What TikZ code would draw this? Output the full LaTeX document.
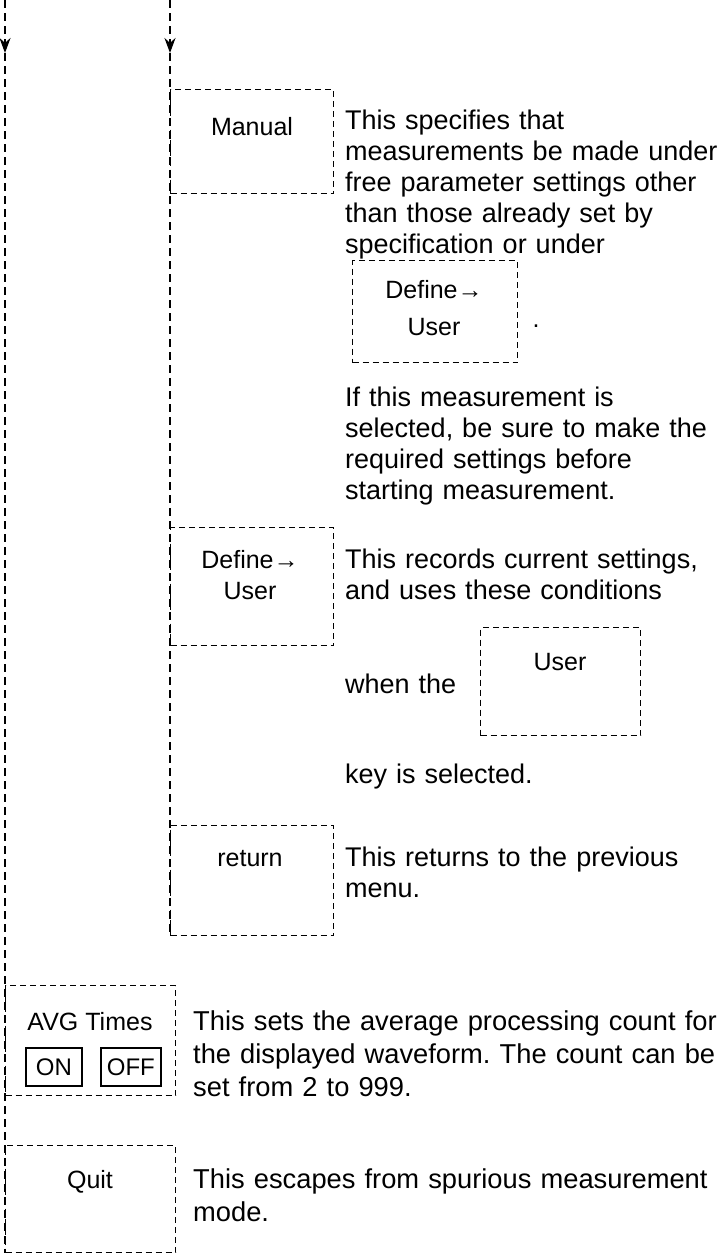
\documentclass[tikz,border=0pt]{standalone}
\usepackage{fontspec}
\setmainfont{Liberation Sans}
\usetikzlibrary{arrows.meta}
\frenchspacing
\begin{document}
\begin{tikzpicture}[x=1pt,y=-1pt,
  flow/.style={line width=1.5pt, dash pattern=on 8pt off 5pt},
  keybox/.style={draw, line width=1.2pt, dash pattern=on 6pt off 4pt, inner sep=0, anchor=north west},
  btn/.style={draw, line width=1.7pt, inner sep=0, anchor=north west, font=\fontsize{24}{29}\selectfont},
  lbl/.style={font=\fontsize{25}{30}\selectfont, inner sep=0, anchor=base},
  desc/.style={font=\fontsize{27}{31}\selectfont, inner sep=0, anchor=base west, align=left, text width=390pt},
  descb/.style={font=\fontsize{27.3}{33}\selectfont, inner sep=0, anchor=base west, align=left, text width=540pt},
  tip/.style={-{Stealth[length=15pt,width=11pt]}}
]
\useasboundingbox (0,0) rectangle (723,1254);

% key boxes
\node[keybox, minimum width=163pt, minimum height=104pt] (manual) at (170,89) {};
\node[lbl] (manualt) at (252,135) {Manual};
\node[keybox, minimum width=163pt, minimum height=118pt] (define) at (170,527) {};
\node[lbl] (definet) at (250,568) {Define→};
\node[lbl] (defineu) at (250,599) {User};
\node[keybox, minimum width=163pt, minimum height=110pt] (ret) at (170,825) {};
\node[lbl] (rett) at (250,866) {return};
\node[keybox, minimum width=170pt, minimum height=110pt] (avg) at (5,985) {};
\node[lbl] (avgt) at (90,1030) {AVG Times};
\node[btn, minimum width=56pt, minimum height=38pt] (on) at (25,1047) {ON};
\node[btn, minimum width=60pt, minimum height=38pt] (off) at (100,1047) {OFF};
\node[keybox, minimum width=170pt, minimum height=107pt] (quit) at (5,1145) {};
\node[lbl] (quitt) at (90,1188) {Quit};

% flow lines
\coordinate (top1) at (5,0);
\coordinate (arr1) at (5,53);
\coordinate (top2) at (170,0);
\coordinate (arr2) at (170,53);
\draw[flow,tip] (top1) -- (arr1);
\draw[flow] (arr1) -- (quit.south west);
\draw[flow,tip] (top2) -- (arr2);
\draw[flow] (arr2) -- (ret.south west);

% descriptions
\node[desc] (d1) at (345,129) {This specifies that\\measurements be made under\\free parameter settings other\\than those already set by\\specification or under};
\node[keybox, minimum width=165pt, minimum height=102pt] (inbox) at (352,260) {};
\node[lbl] (inboxt) at (434,298) {Define→};
\node[lbl] (inboxu) at (434,335) {User};
\node[lbl] (dot) at (536,327) {.};
\node[desc] (d2) at (345,406) {If this measurement is\\selected, be sure to make the\\required settings before\\starting measurement.};
\node[desc] (d3) at (345,568) {This records current settings,\\and uses these conditions};
\node[desc] (d4) at (345,693) {when the};
\node[keybox, minimum width=160pt, minimum height=108pt] (userbox) at (480,627) {};
\node[lbl] (usert) at (560,670) {User};
\node[desc] (d5) at (345,783) {key is selected.};
\node[desc] (d6) at (345,866) {This returns to the previous\\menu.};
\node[descb] (d7) at (193,1030) {This sets the average processing count for\\the displayed waveform. The count can be\\set from 2 to 999.};
\node[descb] (d8) at (193,1188) {This escapes from spurious measurement\\mode.};
\end{tikzpicture}
\end{document}
